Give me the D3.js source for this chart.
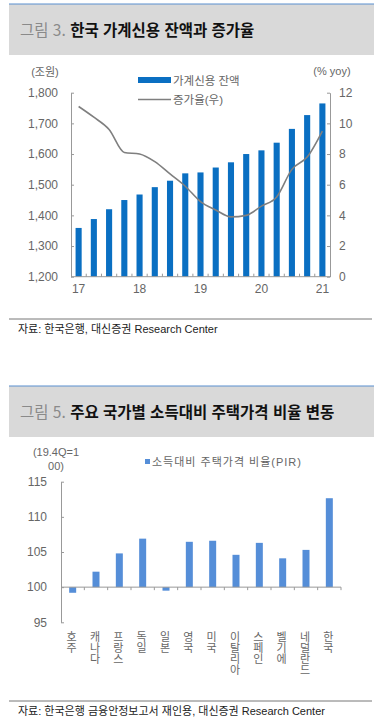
<!DOCTYPE html>
<html lang="ko">
<head>
<meta charset="UTF-8">
<title>가계신용 / PIR</title>
<script src="https://d3js.org/d3.v7.min.js"></script>
<style>
  body { margin: 0; background: #fff; }
  svg { display: block; font-family: "Liberation Sans", Arial, "Noto Sans CJK KR", sans-serif; }
  .axis path, .axis line { stroke: #999; }
  .axis text { fill: #666; font-size: 12px; }
  .vlabel { writing-mode: vertical-rl; text-orientation: upright; }
</style>
</head>
<body>
<svg id="chart" width="376" height="718"></svg>
<script>
// ---- chart 1 data: 가계신용 잔액(조원), 증가율(% yoy)
const quarters = ["17Q1","17Q2","17Q3","17Q4","18Q1","18Q2","18Q3","18Q4",
                  "19Q1","19Q2","19Q3","19Q4","20Q1","20Q2","20Q3","20Q4","21Q1"];
const creditBalance = [1359,1388,1420,1450,1468,1492,1513,1537,1540,1556,1573,1600,1612,1637,1682,1727,1765];
const creditGrowth = [11.1,10.4,9.6,8.1,8.0,7.5,6.7,5.9,4.9,4.35,3.9,4.0,4.6,5.2,7.0,7.8,9.5];
const leftTicks = [1200,1300,1400,1500,1600,1700,1800];
const rightTicks = [0,2,4,6,8,10,12];

// ---- chart 2 data: 소득대비 주택가격 비율(PIR), 19.4Q=100
const countries = ["호주","캐나다","프랑스","독일","일본","영국","미국","이탈리아","스페인","벨기에","네덜란드","한국"];
const pirValues = [99.2,102.2,104.8,106.9,99.5,106.45,106.6,104.6,106.3,104.1,105.3,112.65];
const pirTicks = [95,100,105,110,115];

const svg = d3.select("#chart");

function titleBox(y, num, text) {
    svg.append("rect").attr("x", 9).attr("y", y).attr("width", 365).attr("height", 51).attr("fill", "#d9d9d9");
    svg.append("line").attr("x1", 9).attr("x2", 374).attr("y1", y).attr("y2", y)
        .attr("stroke", "#5b8fd0").attr("stroke-width", 1.2);
    const t = svg.append("text").attr("x", 20).attr("y", y + 32)
        .style("font-family", "'Noto Sans CJK KR', sans-serif").style("font-size", "15.5px");
    t.append("tspan").attr("fill", "#8a8a8a").text(num + " ");
    t.append("tspan").attr("fill", "#111").attr("font-weight", "bold").text(text);
}

function sourceLine(y, text) {
    svg.append("line").attr("x1", 9).attr("x2", 372).attr("y1", y).attr("y2", y).attr("stroke", "#777");
    svg.append("text").attr("x", 18).attr("y", y + 14).attr("fill", "#222")
        .style("font-size", "11px").text(text);
}

// ================= chart 1 =================
titleBox(4, "그림 3.", "한국 가계신용 잔액과 증가율");

const x1 = d3.scaleBand().domain(quarters).range([71, 330]).paddingInner(0.6).paddingOuter(0.3);
const yL = d3.scaleLinear().domain([1200, 1800]).range([276.7, 92.7]);
const yR = d3.scaleLinear().domain([0, 12]).range([276.7, 92.7]);

svg.append("g").selectAll("rect").data(quarters).join("rect")
    .attr("x", d => x1(d))
    .attr("width", x1.bandwidth())
    .attr("y", (d, i) => yL(creditBalance[i]))
    .attr("height", (d, i) => yL(1200) - yL(creditBalance[i]))
    .attr("fill", "#0a6fc2");

svg.append("g").attr("class", "axis").attr("transform", "translate(71,0)")
    .call(d3.axisLeft(yL).tickValues(leftTicks).tickFormat(d3.format(",")).tickSize(-3).tickSizeOuter(0).tickPadding(13));

svg.append("g").attr("class", "axis").attr("transform", "translate(330,0)")
    .call(d3.axisRight(yR).tickValues(rightTicks).tickSize(-3).tickSizeOuter(0).tickPadding(9));

const xAx1 = svg.append("g").attr("class", "axis").attr("transform", "translate(0,276.7)")
    .call(d3.axisBottom(x1).tickSize(0).tickPadding(8)
        .tickFormat(d => d.endsWith("Q1") ? d.slice(0, 2) : ""));
xAx1.select(".domain").attr("d", "M71,0H330");
// minor ticks between bars
xAx1.append("g").selectAll("line").data(quarters.slice(0, -1)).join("line")
    .attr("x1", d => x1(d) + x1.bandwidth() / 2 + x1.step() / 2)
    .attr("x2", d => x1(d) + x1.bandwidth() / 2 + x1.step() / 2)
    .attr("y1", 0).attr("y2", -3);

const line1 = d3.line()
    .x((d, i) => x1(quarters[i]) + x1.bandwidth() / 2)
    .y(d => yR(d))
    .curve(d3.curveMonotoneX);
svg.append("path").datum(creditGrowth).attr("d", line1)
    .attr("fill", "none").attr("stroke", "#7f7f7f").attr("stroke-width", 1.6);

svg.append("text").attr("x", 45).attr("y", 76).attr("text-anchor", "middle")
    .attr("fill", "#666").style("font-size", "11px").text("(조원)");
svg.append("text").attr("x", 332).attr("y", 75).attr("text-anchor", "middle")
    .attr("fill", "#666").style("font-size", "11px").text("(% yoy)");

// legend 1
svg.append("rect").attr("x", 138).attr("y", 77).attr("width", 33).attr("height", 6).attr("fill", "#0a6fc2");
svg.append("text").attr("x", 173).attr("y", 84.5).attr("fill", "#666").style("font-size", "11.5px").text("가계신용 잔액");
svg.append("line").attr("x1", 138).attr("x2", 171).attr("y1", 99.5).attr("y2", 99.5)
    .attr("stroke", "#7f7f7f").attr("stroke-width", 1.6);
svg.append("text").attr("x", 173).attr("y", 103.5).attr("fill", "#666").style("font-size", "11.5px").text("증가율(우)");

sourceLine(319, "자료: 한국은행, 대신증권 Research Center");

// ================= chart 2 =================
titleBox(386, "그림 5.", "주요 국가별 소득대비 주택가격 비율 변동");

const x2 = d3.scaleBand().domain(countries).range([61, 341]).paddingInner(0.7).paddingOuter(0.35);
const y2 = d3.scaleLinear().domain([95, 115]).range([622.3, 481.7]);

svg.append("g").selectAll("rect").data(countries).join("rect")
    .attr("x", d => x2(d))
    .attr("width", x2.bandwidth())
    .attr("y", (d, i) => y2(Math.max(100, pirValues[i])))
    .attr("height", (d, i) => Math.abs(y2(pirValues[i]) - y2(100)))
    .attr("fill", "#558ed8");

svg.append("g").attr("class", "axis").attr("transform", "translate(61,0)")
    .call(d3.axisLeft(y2).tickValues(pirTicks).tickSize(-3).tickSizeOuter(0).tickPadding(14));

const base = svg.append("g").attr("class", "axis").attr("transform", `translate(0,${y2(100)})`);
base.append("line").attr("x1", 61).attr("x2", 341).attr("y1", 0).attr("y2", 0);
base.selectAll("line.tk").data(countries).join("line").attr("class", "tk")
    .attr("x1", d => x2(d) + x2.bandwidth() / 2 + x2.step() / 2)
    .attr("x2", d => x2(d) + x2.bandwidth() / 2 + x2.step() / 2)
    .attr("y1", 0).attr("y2", 3);

// vertical stacked category labels
svg.append("g").attr("fill", "#666").style("font-size", "11px")
    .style("font-family", "'Noto Sans CJK KR', sans-serif")
    .selectAll("text").data(countries).join("text")
    .attr("class", "vlabel")
    .attr("x", d => x2(d) + x2.bandwidth() / 2 - 1)
    .attr("y", 631)
    .text(d => d);

svg.append("text").attr("x", 56).attr("y", 456).attr("text-anchor", "middle")
    .attr("fill", "#666").style("font-size", "11px").text("(19.4Q=1");
svg.append("text").attr("x", 56).attr("y", 470).attr("text-anchor", "middle")
    .attr("fill", "#666").style("font-size", "11px").text("00)");

// legend 2
svg.append("rect").attr("x", 145).attr("y", 459).attr("width", 5).attr("height", 5).attr("fill", "#558ed8");
svg.append("text").attr("x", 152).attr("y", 466).attr("fill", "#666")
    .style("font-size", "11px").style("letter-spacing", "1px").text("소득대비 주택가격 비율(PIR)");

sourceLine(701, "자료: 한국은행 금융안정보고서 재인용, 대신증권 Research Center");
</script>
</body>
</html>
